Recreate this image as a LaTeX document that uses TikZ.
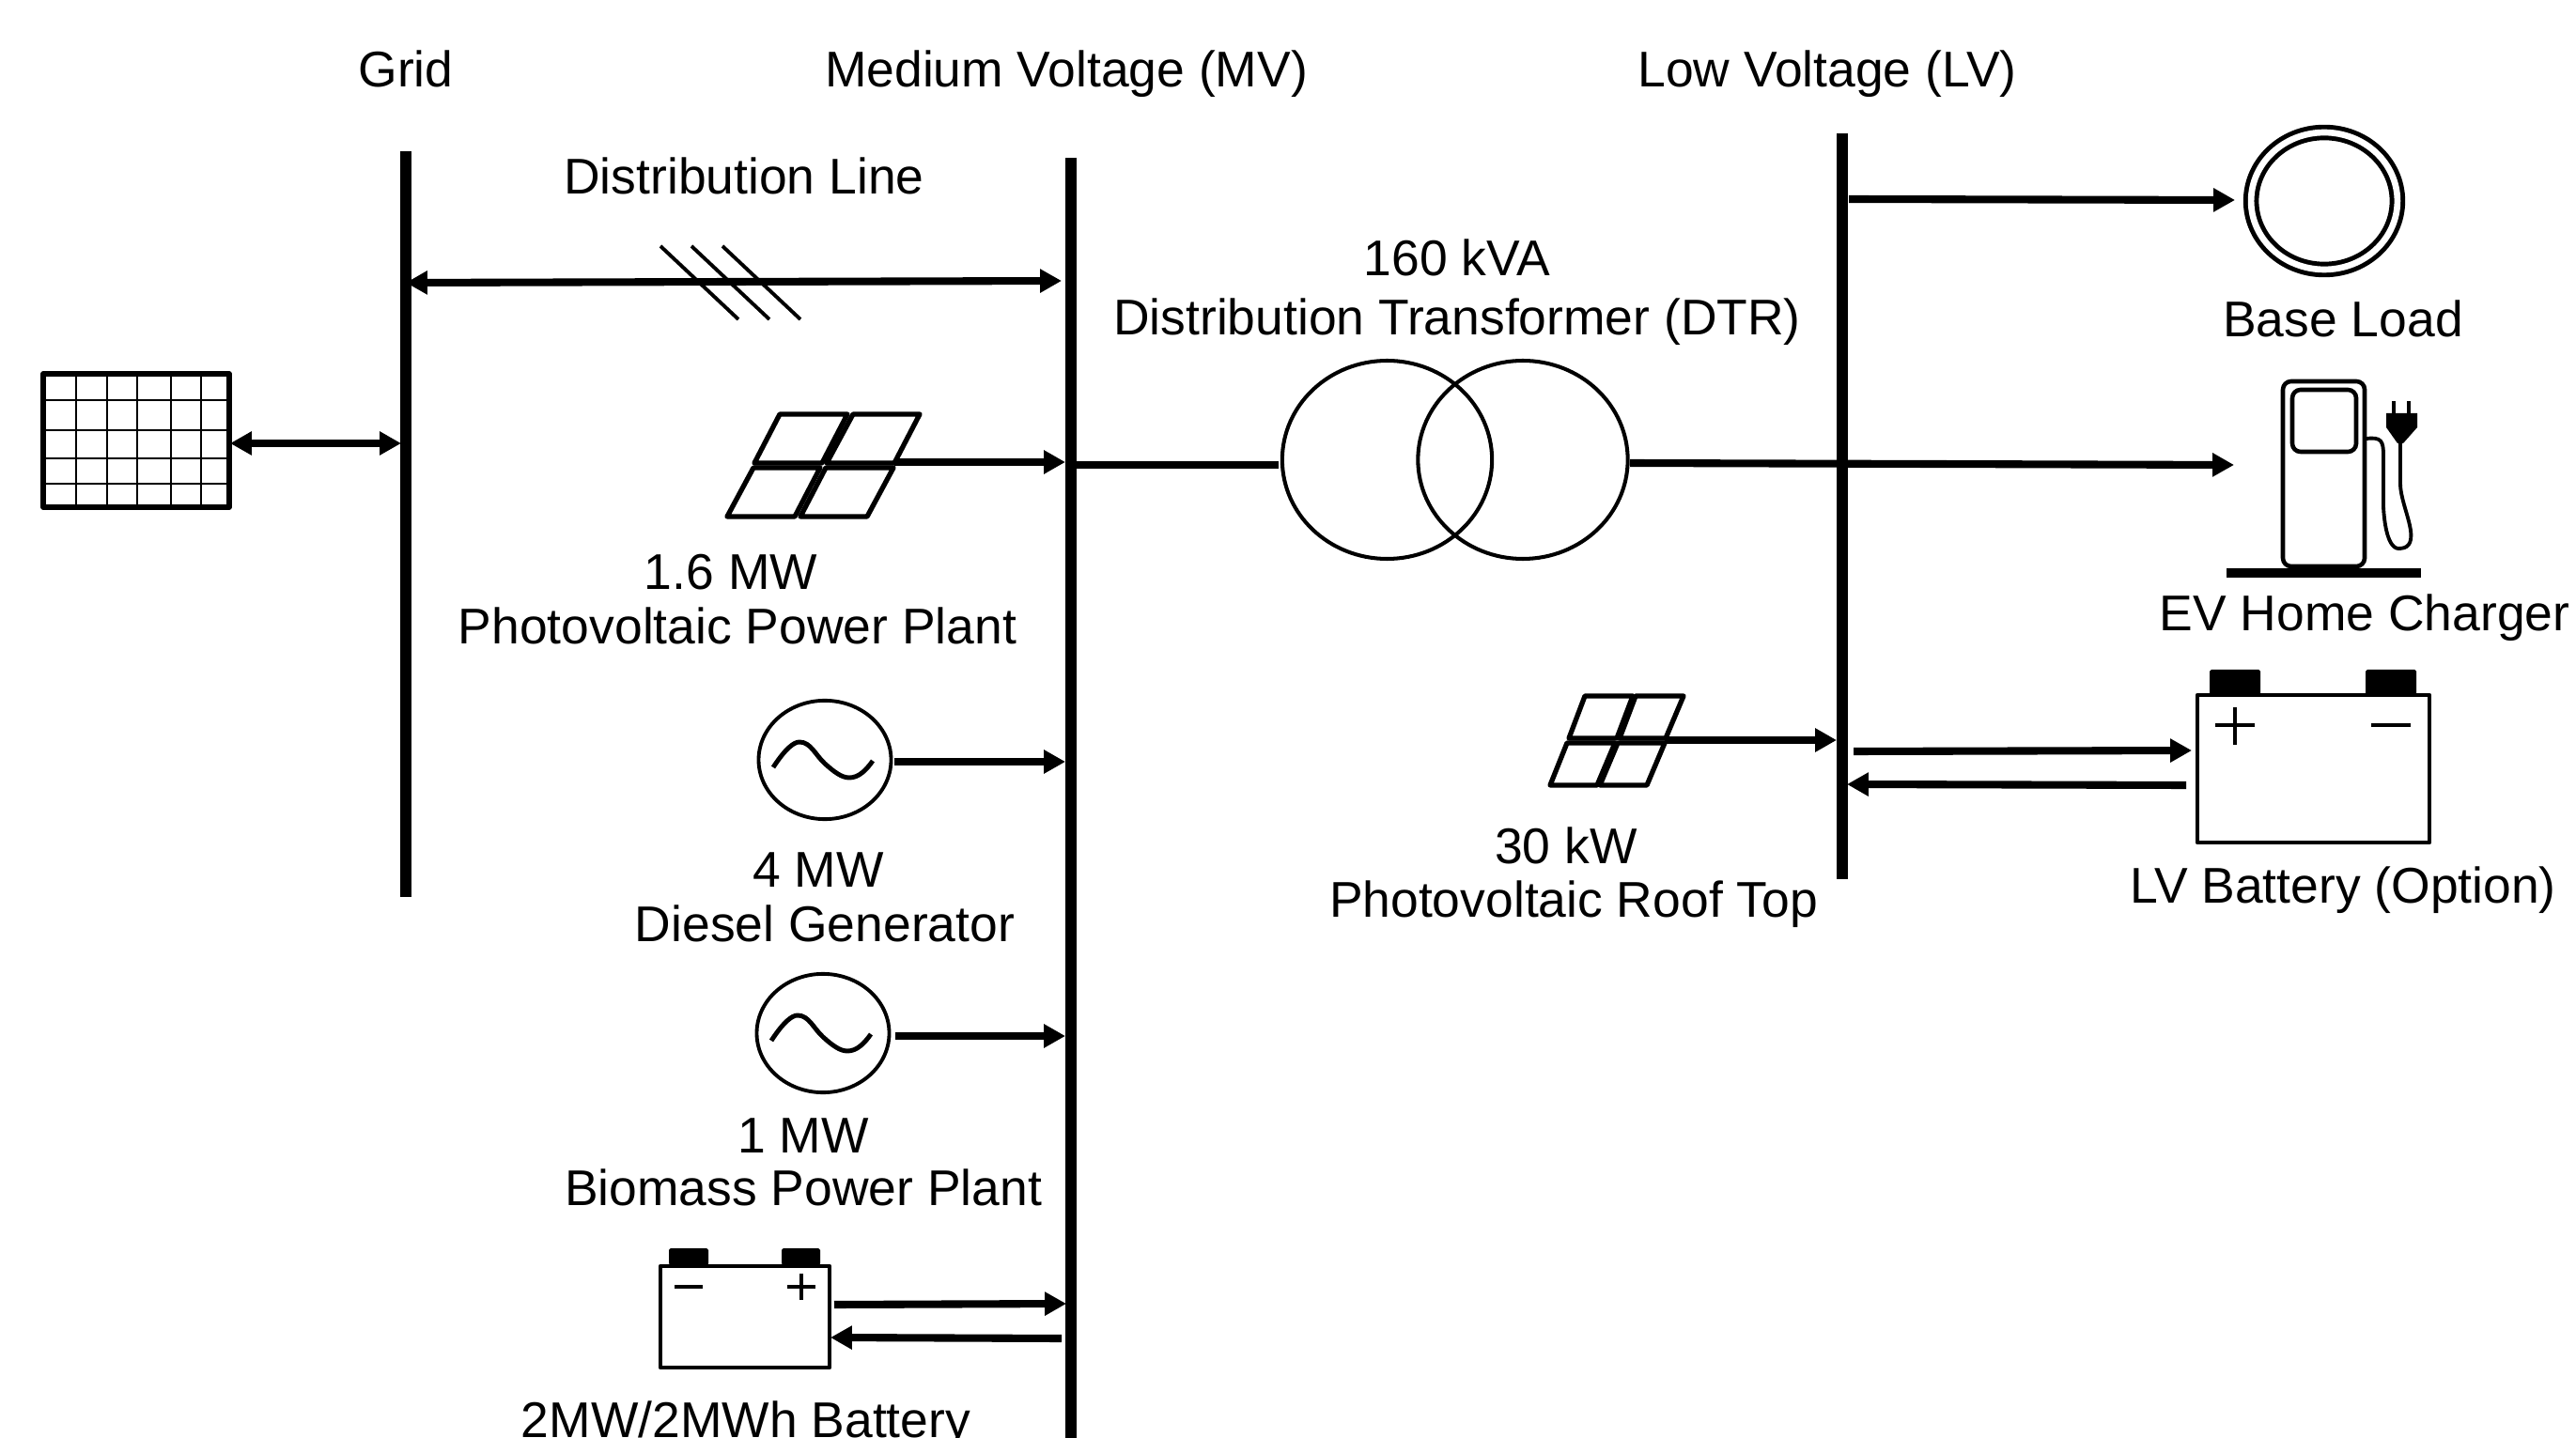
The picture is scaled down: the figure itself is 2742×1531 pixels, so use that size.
\documentclass[tikz,border=0pt]{standalone}
\usepackage{fontspec}
\setmainfont{Liberation Sans}
\usetikzlibrary{arrows.meta,shapes.geometric}
\tikzset{
  bus/.style={line width=3.4pt},
  link/.style={line width=2.3pt},
  flow/.style={link,-{Triangle[length=6.5pt,width=6.8pt]}},
  flowboth/.style={link,{Triangle[length=6.5pt,width=6.8pt]}-{Triangle[length=6.5pt,width=6.8pt]}},
  frame/.style={line width=1.5pt,line join=round},
  casing/.style={line width=1.3pt,line join=round},
  thinline/.style={line width=0.6pt},
  hatch/.style={line width=1.1pt},
  sign/.style={line width=0.9pt},
  wave/.style={line width=1.4pt},
  lbl/.style={font=\fontsize{15.2pt}{18pt}\selectfont,inner sep=0pt,text height=0.72em,text depth=0pt,yshift=-2pt},
  gen/.style={draw,ellipse,line width=1.1pt,minimum width=40.1pt,minimum height=35.9pt,inner sep=0pt},
  xfmr/.style={draw,ellipse,line width=1.15pt,minimum width=63.5pt,minimum height=60pt,inner sep=0pt},
  terminal/.style={fill=black,rounded corners=0.5pt}
}
\begin{document}
\begin{tikzpicture}[x=0.01cm,y=-0.01cm]
  \useasboundingbox (0,0) rectangle (2742,1531);
  % bars
  \coordinate (gridtop) at (432,161);
  \coordinate (gridbot) at (432,955);
  \coordinate (mvtop) at (1140,168);
  \coordinate (mvbot) at (1140,1540);
  \coordinate (lvtop) at (1961,142);
  \coordinate (lvbot) at (1961,936);
  \draw[bus] (gridtop) -- (gridbot);
  \draw[bus] (mvtop) -- (mvbot);
  \draw[bus] (lvtop) -- (lvbot);
  \node[lbl] (gridtext) at (432,73) {Grid};
  \node[lbl] (mvtext) at (1135,73) {Medium Voltage (MV)};
  \node[lbl] (lvtext) at (1945,73) {Low Voltage (LV)};

  % grid side panel
  \draw[frame] (46,398) rectangle (244,540);
  \foreach \x in {81,114,146,182,214}
    \draw[thinline] (\x,398) -- (\x,540);
  \foreach \y in {426,458,488,515}
    \draw[thinline] (46,\y) -- (244,\y);
  \coordinate (panelout) at (245,472);
  \coordinate (gridin) at (427,472);
  \draw[flowboth] (panelout) -- (gridin);

  % distribution line
  \node[lbl] (linetext) at (792,187) {Distribution Line};
  \coordinate (linea) at (432,301);
  \coordinate (lineb) at (1130,299);
  \draw[flowboth] (linea) -- (lineb);
  \foreach \x in {703,736,769}
    \draw[hatch] (\x,262) -- ++(83,78);

  % 1.6 MW plant
  \foreach \a/\b/\c/\d in {830/902/875/803,908/979/952/880}
    \draw[frame] (\a,441) -- (\b,441) -- (\c,493) -- (\d,493) -- cycle;
  \foreach \a/\b/\c/\d in {802/873/846/774,879/951/923/852}
    \draw[frame] (\a,498) -- (\b,498) -- (\c,550) -- (\d,550) -- cycle;
  \coordinate (plantout) at (952,492);
  \coordinate (mvplant) at (1134,492);
  \draw[flow] (plantout) -- (mvplant);
  \node[lbl] (planta) at (778,608) {1.6 MW};
  \node[lbl] (plantb) at (785,666) {Photovoltaic Power Plant};

  % generators
  \node[gen] (diesel) at (878,809) {};
  \node[gen] (biomass) at (876,1100) {};
  \foreach \g in {diesel,biomass}
    \draw[wave,shift={(\g.center)}] (-55,8) .. controls (-42,-12) and (-33,-19) .. (-27,-19)
      .. controls (-15,-19) and (-10,-5) .. (0,4)
      .. controls (10,13) and (18,19) .. (26,19)
      .. controls (36,19) and (44,11) .. (51,1);
  \coordinate (dieselout) at (952,811);
  \coordinate (biomassout) at (953,1103);
  \draw[flow,shorten >=1.7pt] (dieselout) -- (dieselout -| mvtop);
  \draw[flow,shorten >=1.7pt] (biomassout) -- (biomassout -| mvtop);
  \node[lbl] (diesela) at (871,925) {4 MW};
  \node[lbl] (dieselb) at (878,983) {Diesel Generator};
  \node[lbl] (biomassa) at (855,1208) {1 MW};
  \node[lbl] (biomassb) at (855,1264) {Biomass Power Plant};

  % MV battery
  \draw[casing] (703,1348) rectangle (883,1456);
  \fill[terminal] (712,1329) rectangle (754,1347);
  \fill[terminal] (832,1329) rectangle (873,1347);
  \draw[sign] (718,1370) -- (748,1370);
  \draw[sign] (838,1370) -- (868,1370) (853,1356) -- (853,1384);
  \coordinate (batout) at (888,1389);
  \coordinate (mvbatin) at (1135,1388);
  \coordinate (mvbatout) at (1130,1425);
  \coordinate (batin) at (884,1424);
  \draw[flow] (batout) -- (mvbatin);
  \draw[flow] (mvbatout) -- (batin);
  \node[lbl] (battext) at (794,1511) {2MW/2MWh Battery};

  % transformer
  \node[xfmr] (xfa) at (1476.5,489.5) {};
  \node[xfmr] (xfb) at (1621,489.5) {};
  \node[lbl] (xftexta) at (1551,274) {160 kVA};
  \node[lbl] (xftextb) at (1551,337) {Distribution Transformer (DTR)};
  \coordinate (mvout) at (1146,495);
  \coordinate (xfin) at (1361,495);
  \coordinate (xfout) at (1735,493);
  \coordinate (evin) at (2378,495);
  \draw[link] (mvout) -- (xfin);
  \draw[flow] (xfout) -- (evin);

  % base load
  \node[draw,ellipse,double,line width=1.4pt,double distance=1.9pt,minimum width=44.3pt,minimum height=41.5pt,inner sep=0pt] (load) at (2474,214) {};
  \coordinate (lvload) at (1968,212);
  \coordinate (loadin) at (2379,213);
  \draw[flow] (lvload) -- (loadin);
  \node[lbl] (loadtext) at (2494,339) {Base Load};

  % charger
  \draw[casing,rounded corners=2.5pt] (2430,406) rectangle (2517,603);
  \draw[casing,rounded corners=2.5pt] (2440,415) rectangle (2508,481);
  \fill (2370,605) rectangle (2577,615);
  \draw[line width=1.1pt] (2519,467) .. controls (2535,465) and (2537,470) .. (2537,485)
    -- (2537,540) .. controls (2539,575) and (2547,584) .. (2553,584)
    .. controls (2562,584) and (2568,580) .. (2566,565)
    .. controls (2564,550) and (2555,530) .. (2555,515) -- (2555,468);
  \fill (2540,440) -- (2573,440) -- (2573,455) -- (2558,472) -- (2552,472) -- (2540,455) -- cycle;
  \fill (2546,427) rectangle (2550,440);
  \fill (2562,427) rectangle (2566,440);
  \node[lbl] (evtext) at (2517,652) {EV Home Charger};

  % roof top
  \foreach \a/\b/\c/\d in {1687/1738/1721/1670,1741/1792/1773/1724}
    \draw[frame] (\a,741) -- (\b,741) -- (\c,786) -- (\d,786) -- cycle;
  \foreach \a/\b/\c/\d in {1668/1719/1700/1650,1722/1772/1753/1703}
    \draw[frame] (\a,791) -- (\b,791) -- (\c,836) -- (\d,836) -- cycle;
  \coordinate (roofout) at (1772,788);
  \coordinate (lvroof) at (1955,788);
  \draw[flow] (roofout) -- (lvroof);
  \node[lbl] (roofa) at (1667,900) {30 kW};
  \node[lbl] (roofb) at (1675,957) {Photovoltaic Roof Top};

  % LV battery
  \draw[casing] (2339,740) rectangle (2586,897);
  \fill[terminal] (2352,713) rectangle (2406,740);
  \fill[terminal] (2518,713) rectangle (2572,740);
  \draw[sign] (2358,772) -- (2400,772) (2379,753) -- (2379,793);
  \draw[sign] (2524,772) -- (2566,772);
  \coordinate (lvbatout) at (1973,800);
  \coordinate (lvbatin) at (2333,799);
  \coordinate (lvbatback) at (2327,836);
  \coordinate (lvback) at (1966,835);
  \draw[flow] (lvbatout) -- (lvbatin);
  \draw[flow] (lvbatback) -- (lvback);
  \node[lbl] (lvbattext) at (2494,942) {LV Battery (Option)};
\end{tikzpicture}
\end{document}
